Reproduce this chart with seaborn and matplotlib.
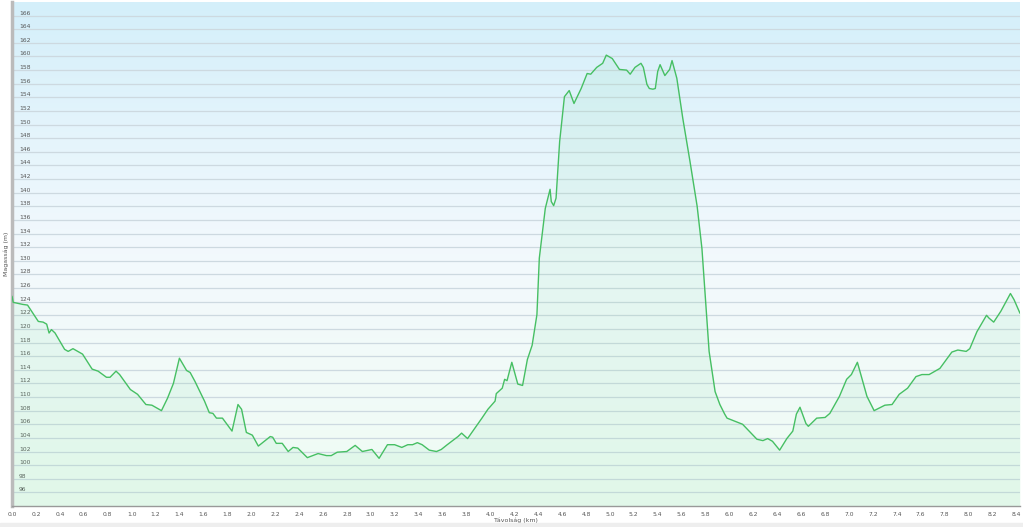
import numpy as np
import pandas as pd
import matplotlib
matplotlib.use('Agg')
import matplotlib.pyplot as plt
from matplotlib.colors import LinearSegmentedColormap
import seaborn as sns

# elevation profile
distance_km = [
    0.00, 0.01, 0.09, 0.13, 0.22, 0.26, 0.29, 0.31, 0.33, 0.36, 0.44, 0.47, 0.51, 0.59,
    0.67, 0.72, 0.79, 0.82, 0.87, 0.90, 0.99, 1.05, 1.12, 1.17, 1.25, 1.30, 1.35, 1.40,
    1.43, 1.46, 1.49, 1.53, 1.59, 1.61, 1.65, 1.68, 1.71, 1.76, 1.84, 1.89, 1.92, 1.96,
    2.01, 2.06, 2.11, 2.16, 2.18, 2.21, 2.26, 2.31, 2.35, 2.39, 2.47, 2.56, 2.63, 2.67,
    2.72, 2.80, 2.87, 2.93, 3.01, 3.07, 3.14, 3.20, 3.26, 3.31, 3.35, 3.39, 3.43, 3.49,
    3.55, 3.59, 3.64, 3.73, 3.76, 3.81, 3.87, 3.93, 3.98, 4.04, 4.05, 4.10, 4.12, 4.14,
    4.18, 4.23, 4.27, 4.31, 4.35, 4.39, 4.41, 4.46, 4.50, 4.51, 4.53, 4.55, 4.58, 4.62,
    4.66, 4.70, 4.76, 4.81, 4.84, 4.89, 4.94, 4.97, 5.02, 5.08, 5.14, 5.17, 5.21, 5.26,
    5.28, 5.31, 5.33, 5.36, 5.38, 5.40, 5.42, 5.46, 5.50, 5.52, 5.56, 5.61, 5.67, 5.73,
    5.77, 5.83, 5.88, 5.92, 5.96, 5.98, 6.11, 6.23, 6.28, 6.32, 6.36, 6.42, 6.48, 6.53,
    6.56, 6.59, 6.64, 6.66, 6.73, 6.80, 6.84, 6.92, 6.98, 7.02, 7.07, 7.15, 7.21, 7.30,
    7.36, 7.42, 7.49, 7.56, 7.61, 7.67, 7.76, 7.86, 7.91, 7.98, 8.01, 8.07, 8.12, 8.15,
    8.17, 8.21, 8.27, 8.35, 8.38, 8.43,
]
elevation_m = [
    124.8, 123.9, 123.6, 123.5, 121.1, 121.0, 120.7, 119.4, 119.9, 119.4, 117.0, 116.7, 117.1, 116.3,
    114.1, 113.8, 112.9, 112.9, 113.8, 113.3, 111.1, 110.4, 108.9, 108.8, 108.0, 109.8, 112.0, 115.7,
    114.8, 113.9, 113.6, 112.3, 110.1, 109.4, 107.7, 107.6, 106.9, 106.9, 105.0, 108.9, 108.2, 104.8,
    104.4, 102.8, 103.5, 104.2, 104.1, 103.2, 103.2, 102.0, 102.6, 102.5, 101.1, 101.7, 101.4, 101.4,
    101.9, 102.0, 102.9, 102.0, 102.3, 101.0, 103.0, 103.0, 102.6, 103.0, 103.0, 103.3, 103.0, 102.2,
    102.0, 102.3, 103.0, 104.2, 104.7, 103.9, 105.4, 106.9, 108.2, 109.4, 110.5, 111.3, 112.6, 112.4,
    115.1, 111.9, 111.7, 115.5, 117.6, 122.1, 130.4, 137.7, 140.5, 138.7, 138.1, 139.2, 147.5, 154.1,
    155.0, 153.1, 155.3, 157.5, 157.4, 158.4, 159.0, 160.2, 159.7, 158.1, 158.0, 157.4, 158.4, 159.0,
    158.4, 155.9, 155.3, 155.2, 155.3, 157.8, 158.8, 157.2, 158.1, 159.4, 156.8, 150.9, 144.6, 138.0,
    131.8, 116.7, 110.8, 108.9, 107.5, 106.9, 106.0, 103.8, 103.6, 103.9, 103.5, 102.2, 103.9, 105.0,
    107.5, 108.5, 106.1, 105.7, 106.9, 107.0, 107.6, 110.1, 112.6, 113.3, 115.1, 110.1, 108.0, 108.8,
    108.9, 110.4, 111.3, 113.0, 113.3, 113.3, 114.2, 116.6, 116.9, 116.7, 117.1, 119.6, 121.1, 122.0,
    121.6, 121.0, 122.6, 125.2, 124.3, 122.3,
]
x_ticks = [round(0.2 * i, 1) for i in range(43)]
y_ticks = list(range(96, 168, 2))

df = pd.DataFrame({'km': distance_km, 'm': elevation_m})

sns.set_style('white')
plt.rcParams['font.family'] = ['DejaVu Sans']

fig = plt.figure(figsize=(10.23, 5.27), dpi=100)
ax = fig.add_axes([12 / 1023, 21 / 527, 1008 / 1023, 504 / 527])

# background gradient: light blue at top, near white middle, light green at bottom
bg = LinearSegmentedColormap.from_list('bg', ['#effcf3', '#f3f9fd', '#d4effa'])
ax.imshow(np.linspace(0, 1, 256).reshape(-1, 1), aspect='auto', cmap=bg,
          extent=[0, 1, 0, 1], transform=ax.transAxes, origin='lower', zorder=0)

ax.set_xlim(0, 8.43)
ax.set_ylim(94, 168)
ax.set_yticks(y_ticks)
ax.set_xticks(x_ticks)
ax.set_xticklabels([f'{t:.1f}' for t in x_ticks])
ax.grid(axis='y', color='#cdd9e0', linewidth=0.9, zorder=1)
ax.set_axisbelow(True)

ax.fill_between(df['km'], df['m'], 94, color='#6fdc9a', alpha=0.10, linewidth=0, zorder=2)
sns.lineplot(data=df, x='km', y='m', ax=ax, color='#46bf63', linewidth=1.0, zorder=3)

ax.tick_params(axis='y', direction='in', pad=-5, length=0, labelsize=4.3, labelcolor='#555555')
for lbl in ax.get_yticklabels():
    lbl.set_horizontalalignment('left')
    lbl.set_verticalalignment('bottom')
ax.tick_params(axis='x', direction='out', length=3, width=0.8, color='#888888',
               labelsize=4.3, labelcolor='#555555', pad=1)

for side in ['top', 'right']:
    ax.spines[side].set_visible(False)
ax.spines['left'].set_color('#bbbbbb')
ax.spines['left'].set_linewidth(2.5)
ax.spines['bottom'].set_color('#999999')
ax.spines['bottom'].set_linewidth(1.0)

ax.set_xlabel('Távolság (km)', fontsize=4.5, color='#555555', labelpad=0.5)
ax.set_ylabel('Magasság (m)', fontsize=4.5, color='#555555', labelpad=2)

fig.patches.append(plt.Rectangle((0, 0), 1, 4 / 527, transform=fig.transFigure,
                                 color='#eeeeee', zorder=0))

fig.savefig('out.png', dpi=100)
